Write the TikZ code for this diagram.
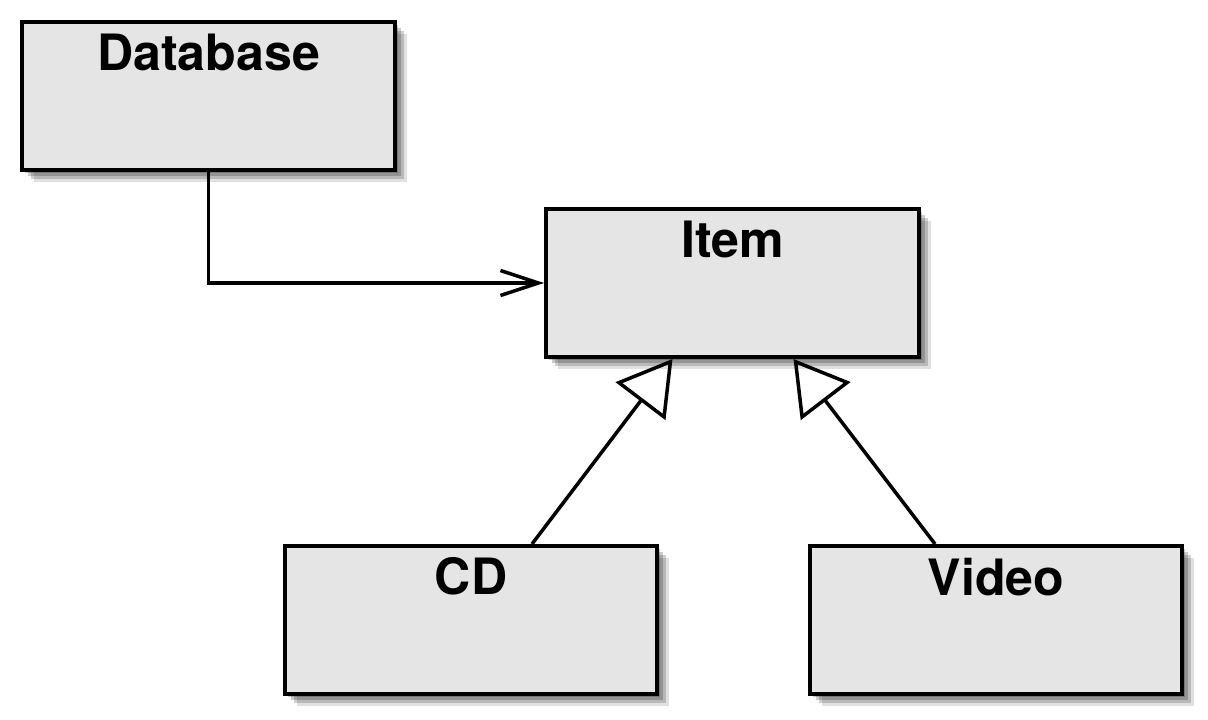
\documentclass[tikz,border=0pt]{standalone}
\usepackage{fontspec}
\setmainfont{TeX Gyre Heros}
\usetikzlibrary{arrows.meta}
\usetikzlibrary{shadows}
\definecolor{boxgray}{RGB}{229,229,229}
\tikzset{
    classbox/.style={draw, line width=0.08cm, fill=boxgray, inner sep=0pt,
        minimum width=7.46cm, minimum height=2.96cm,
        drop shadow={shadow xshift=0.06cm, shadow yshift=-0.06cm, opacity=0.2, fill=black},
        drop shadow={shadow xshift=0.12cm, shadow yshift=-0.12cm, opacity=0.2, fill=black},
        drop shadow={shadow xshift=0.18cm, shadow yshift=-0.18cm, opacity=0.18, fill=black},
        drop shadow={shadow xshift=0.24cm, shadow yshift=-0.24cm, opacity=0.12, fill=black}},
    classname/.style={anchor=north, inner sep=0pt, font=\fontsize{28.5}{34}\selectfont\bfseries},
    assoc/.style={line width=0.07cm, -{Straight Barb[length=0.76cm, width=0.5cm]}},
    inherit/.style={line width=0.07cm, -{Triangle[open, length=1.06cm, width=1.24cm]}}
}

\begin{document}
\begin{tikzpicture}[x=0.02cm, y=-0.02cm]
        \useasboundingbox (0, 0) rectangle (1208, 720);

        \node[classbox] (db) at (208.5, 96) {};
        \node[classbox] (item) at (732.5, 283) {};
        \node[classbox] (cd) at (471, 620) {};
        \node[classbox] (video) at (996, 620) {};

        \node[classname] (dbname) at ([yshift=-0.27cm]db.north) {Database};
        \node[classname] (itemname) at ([yshift=-0.27cm]item.north) {Item};
        \node[classname] (cdname) at ([yshift=-0.27cm]cd.north) {CD};
        \node[classname] (videoname) at ([yshift=-0.27cm]video.north) {Video};

        \draw[assoc] (db.south) |- (item.west);

        \draw[inherit] ([xshift=1.22cm]cd.north) -- ([xshift=-1.2cm]item.south);
        \draw[inherit] ([xshift=-1.22cm]video.north) -- ([xshift=1.22cm]item.south);
    \end{tikzpicture}
\end{document}
